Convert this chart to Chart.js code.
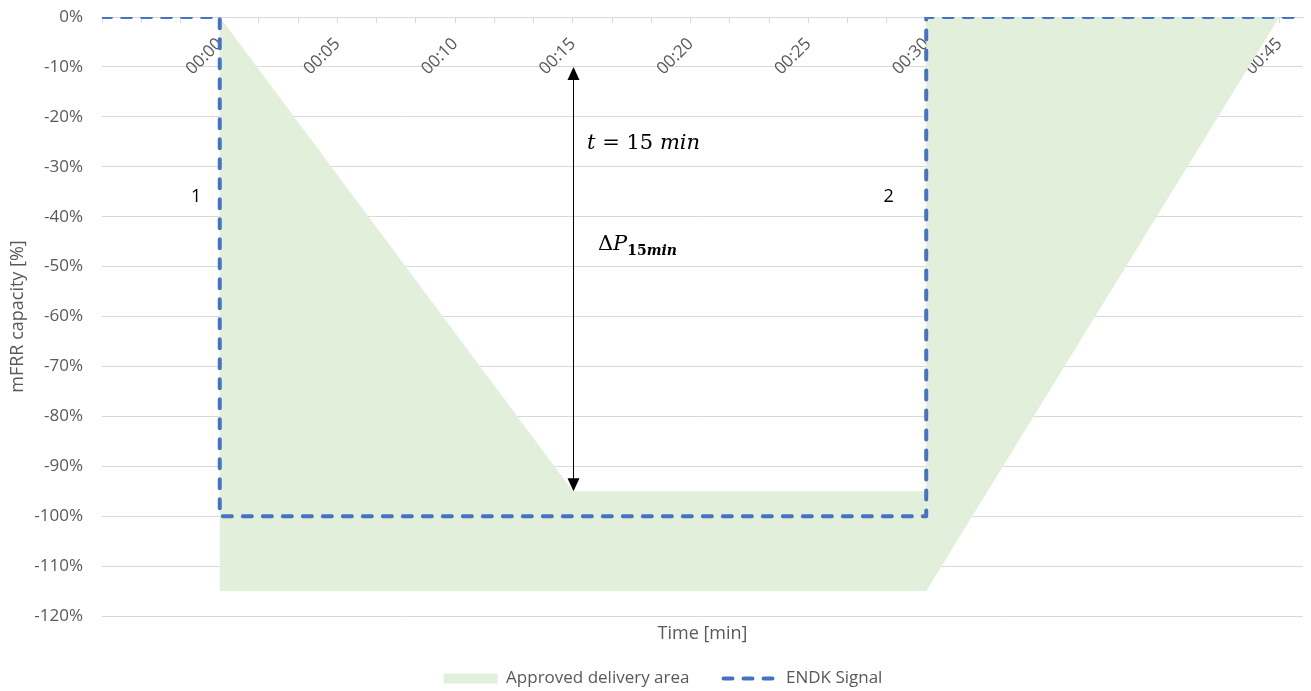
<!DOCTYPE html>
<html lang="en">
  <head>
    <meta charset="UTF-8" />
    <title>mFRR activation</title>
    <script src="https://cdn.jsdelivr.net/npm/chart.js"></script>
    <style>
      html,
      body {
        margin: 0;
        padding: 0;
        background: #ffffff;
      }
      .chart-box {
        position: relative;
        width: 1311px;
        height: 691px;
      }
    </style>
  </head>
  <body>
    <div class="chart-box">
      <canvas id="mfrrChart"></canvas>
    </div>

    <script>
      // time in minutes, capacity in % of the mFRR bid
      const areaTime = [0, 15, 30, 30, 45, 30, 0];
      const areaCapacity = [0, -95, -95, 0, 0, -115, -115];
      const signalTime = [-5, 0, 0, 30, 30, 46];
      const signalCapacity = [0, 0, -100, -100, 0, 0];
      const timeLabels = ["00:00", "00:05", "00:10", "00:15", "00:20", "00:25", "00:30", "00:35", "00:40", "00:45"];
      const timeMin = -5;
      const timeMax = 46;

      // notes drawn on top (data units)
      const arrowTime = 15;
      const arrowFrom = -10;
      const arrowTo = -95;

      const GREEN = "#E2EFDA";
      const BLUE = "#4472C4";
      const GREY_TEXT = "#595959";
      const GRID = "#D9D9D9";
      const FONT = "'Open Sans', sans-serif";
      const MATH = "'DejaVu Serif', serif";

      // minor tick marks every 100 s like the original sheet
      const tickTimes = [];
      for (let i = -3; i <= 27; i++) tickTimes.push((i * 5) / 3);

      const toPoints = (xs, ys) => xs.map((x, i) => ({ x: x, y: ys[i] }));

      function drawRuns(ctx, runs, x, y) {
        for (const r of runs) {
          ctx.font = r.font;
          ctx.fillText(r.text, x, y + (r.dy || 0));
          x += ctx.measureText(r.text).width;
        }
      }

      const notesPlugin = {
        id: "notes",
        afterLayout(chart) {
          // legend in the sheet sits a bit right of centre
          chart.legend.left += 8;
          chart.legend.right += 8;
        },
        afterDatasetsDraw(chart) {
          const { ctx } = chart;
          const xs = chart.scales.x;
          const ys = chart.scales.y;
          ctx.save();

          // double headed arrow
          const ax = Math.round(xs.getPixelForValue(arrowTime)) + 0.5;
          const top = ys.getPixelForValue(arrowFrom);
          const bot = ys.getPixelForValue(arrowTo);
          const head = 13;
          ctx.strokeStyle = "#000";
          ctx.fillStyle = "#000";
          ctx.lineWidth = 1;
          ctx.beginPath();
          ctx.moveTo(ax, top + head - 2);
          ctx.lineTo(ax, bot - head + 2);
          ctx.stroke();
          ctx.beginPath();
          ctx.moveTo(ax, top);
          ctx.lineTo(ax - 6, top + head);
          ctx.lineTo(ax + 6, top + head);
          ctx.closePath();
          ctx.fill();
          ctx.beginPath();
          ctx.moveTo(ax, bot);
          ctx.lineTo(ax - 6, bot - head);
          ctx.lineTo(ax + 6, bot - head);
          ctx.closePath();
          ctx.fill();

          // switching points 1 and 2
          ctx.font = "18px " + FONT;
          ctx.textAlign = "center";
          ctx.textBaseline = "middle";
          ctx.fillText("1", xs.getPixelForValue(-1), ys.getPixelForValue(-36));
          ctx.fillText("2", xs.getPixelForValue(28.4), ys.getPixelForValue(-36));

          // math labels
          ctx.textAlign = "left";
          ctx.textBaseline = "alphabetic";
          drawRuns(
            ctx,
            [
              { text: "t", font: "italic 21px " + MATH },
              { text: " = 15 ", font: "21px " + MATH },
              { text: "min", font: "italic 21px " + MATH },
            ],
            xs.getPixelForValue(15.6),
            ys.getPixelForValue(-26.5)
          );
          drawRuns(
            ctx,
            [
              { text: "\u0394", font: "21px " + MATH },
              { text: "P", font: "italic 21px " + MATH },
              { text: "15", font: "bold 14px " + MATH, dy: 5 },
              { text: "min", font: "italic bold 14px " + MATH, dy: 5 },
            ],
            xs.getPixelForValue(16.06),
            ys.getPixelForValue(-46.6)
          );
          ctx.restore();
        },
      };

      new Chart(document.getElementById("mfrrChart"), {
        type: "line",
        data: {
          datasets: [
            {
              label: "Approved delivery area",
              data: toPoints(areaTime, areaCapacity),
              fill: "shape",
              backgroundColor: GREEN,
              borderColor: "rgba(0,0,0,0)",
              borderWidth: 0,
              pointRadius: 0,
              tension: 0,
            },
            {
              label: "ENDK Signal",
              data: toPoints(signalTime, signalCapacity),
              fill: false,
              borderColor: BLUE,
              backgroundColor: BLUE,
              borderWidth: 4,
              borderDash: [9, 11],
              borderCapStyle: "round",
              borderJoinStyle: "round",
              pointRadius: 0,
              tension: 0,
            },
          ],
        },
        options: {
          responsive: true,
          maintainAspectRatio: false,
          animation: false,
          layout: { padding: { top: 17, left: 7, right: 8, bottom: -6 } },
          plugins: {
            filler: { drawTime: "beforeDatasetsDraw" },
            tooltip: { enabled: false },
            legend: {
              position: "bottom",
              labels: {
                usePointStyle: true,
                pointStyleWidth: 54,
                boxHeight: 10,
                padding: 34,
                color: GREY_TEXT,
                font: { family: FONT, size: 17 },
                generateLabels: (chart) =>
                  chart.data.datasets.map((ds, i) => ({
                    text: ds.label,
                    datasetIndex: i,
                    fontColor: GREY_TEXT,
                    fillStyle: i === 0 ? GREEN : "rgba(0,0,0,0)",
                    strokeStyle: i === 0 ? GREEN : BLUE,
                    lineWidth: i === 0 ? 0 : 4,
                    lineDash: i === 0 ? [] : [9, 11],
                    lineCap: "round",
                    pointStyle: i === 0 ? "rect" : "line",
                    hidden: false,
                  })),
              },
            },
          },
          scales: {
            x: {
              type: "linear",
              position: { y: 0 },
              min: timeMin,
              max: timeMax,
              afterBuildTicks: (scale) => {
                scale.ticks = tickTimes.map((v) => ({ value: v }));
              },
              ticks: {
                autoSkip: false,
                minRotation: 45,
                maxRotation: 45,
                padding: 12,
                color: GREY_TEXT,
                font: { family: FONT, size: 17 },
                callback: (v) => {
                  const m = Math.round(v);
                  if (Math.abs(v - m) > 1e-6 || m < 0 || m % 5 !== 0) return "";
                  return timeLabels[m / 5] || "";
                },
              },
              grid: {
                drawOnChartArea: false,
                drawTicks: true,
                tickLength: 5,
                color: GRID,
              },
              border: { color: GRID, width: 1 },
            },
            x2: {
              type: "linear",
              position: "bottom",
              min: timeMin,
              max: timeMax,
              afterFit: (scale) => {
                scale.height = 20;
              },
              ticks: { display: false },
              grid: { display: false },
              border: { display: false },
              title: {
                display: true,
                text: "Time [min]",
                color: GREY_TEXT,
                font: { family: FONT, size: 18 },
                padding: { top: 0, bottom: -9 },
              },
            },
            y: {
              min: -120,
              max: 0,
              afterFit: (scale) => {
                scale.width = 95;
                scale.paddingTop = 0;
                scale.paddingBottom = 0;
              },
              ticks: {
                stepSize: 10,
                padding: 19,
                color: GREY_TEXT,
                font: { family: FONT, size: 17 },
                callback: (v) => v + "%",
              },
              grid: { color: GRID, drawTicks: false },
              border: { display: false },
              title: {
                display: true,
                text: "mFRR capacity [%]",
                color: GREY_TEXT,
                font: { family: FONT, size: 18 },
                padding: { top: 0, bottom: 6 },
              },
            },
          },
        },
        plugins: [notesPlugin],
      });
    </script>
  </body>
</html>
